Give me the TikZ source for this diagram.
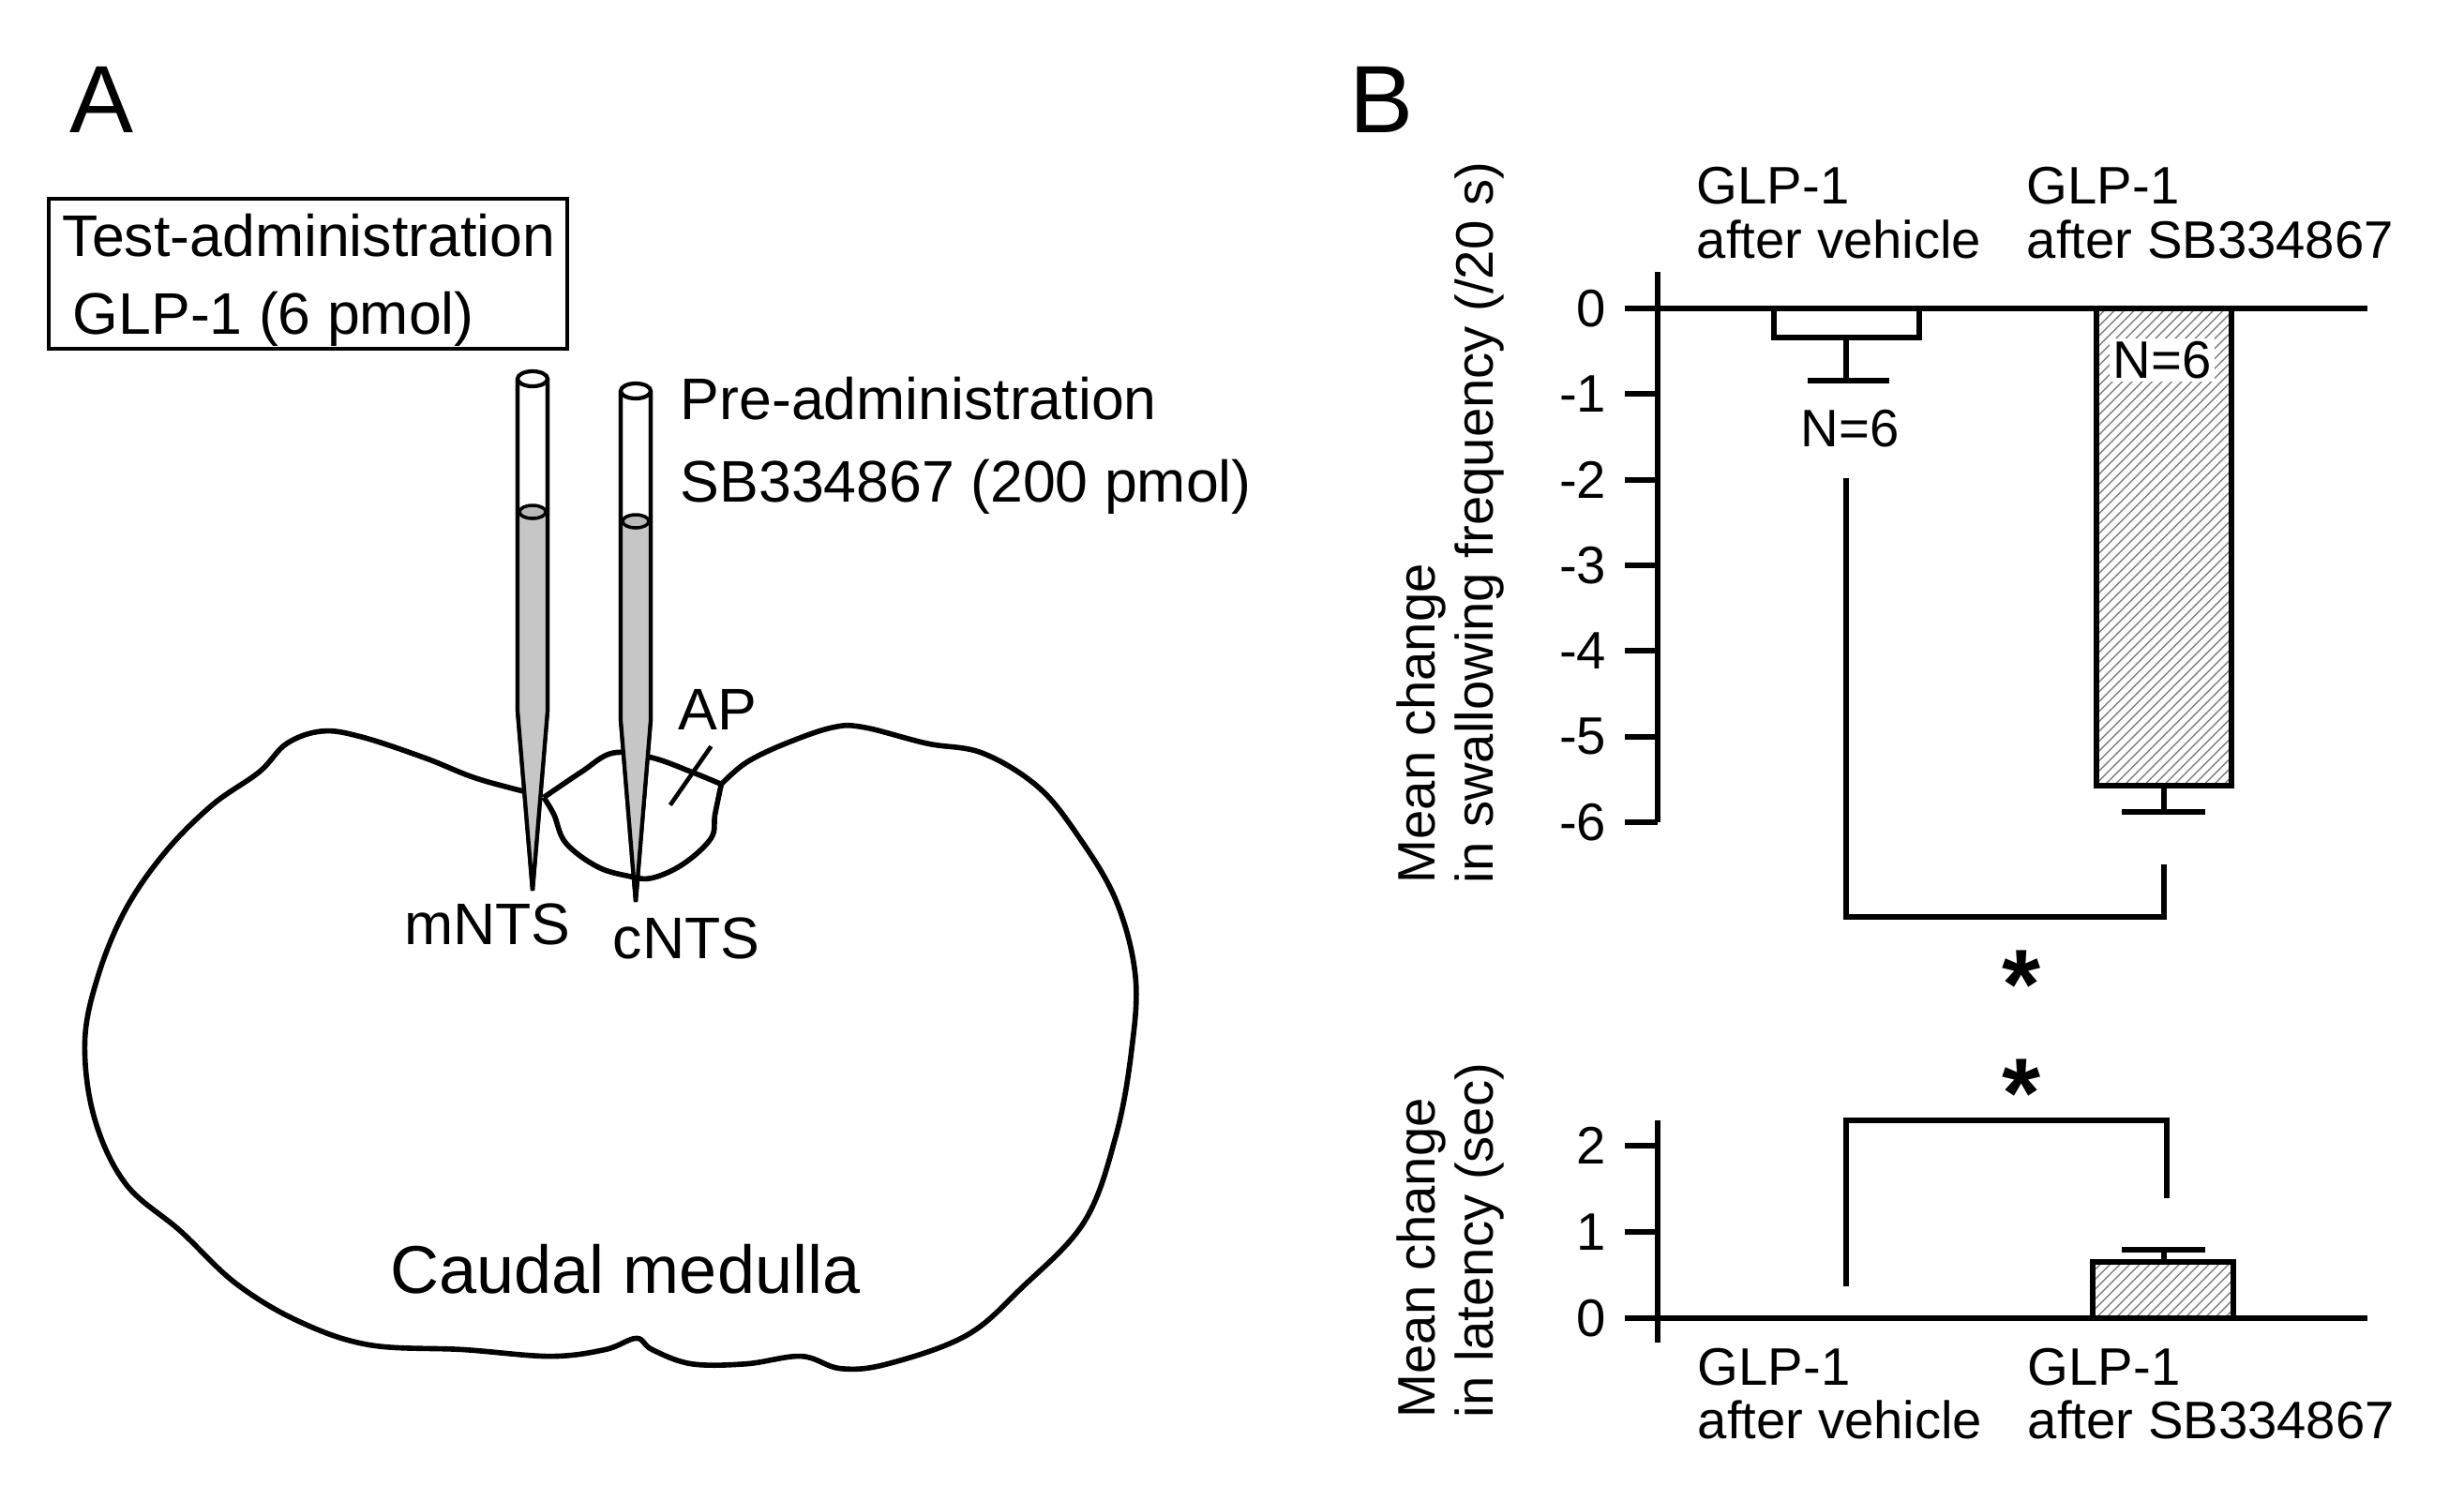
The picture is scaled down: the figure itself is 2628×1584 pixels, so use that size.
\documentclass[tikz,border=0pt]{standalone}
\usepackage{fontspec}
\setmainfont{Liberation Sans}
\usetikzlibrary{patterns}
\begin{document}
\begin{tikzpicture}[x=0.01cm,y=-0.01cm,line width=1.6pt,
  big/.style={font=\fontsize{29}{32}\selectfont,inner sep=0},
  lab/.style={font=\fontsize{17.8}{20}\selectfont,inner sep=0},
  sm/.style={font=\fontsize{16}{18}\selectfont,inner sep=0},
  hatch/.style={pattern=north east lines,pattern color=gray},
  axis/.style={line width=1.7pt}]
\useasboundingbox (0,0) rectangle (2628,1584);
% ---------- Panel A ----------
\node[big,anchor=base west] (A) at (72,141) {A};
\draw[line width=1pt] (52,212) rectangle (605,372);
\node[lab,anchor=base west] (t1) at (64,273) {Test-administration};
\node[lab,anchor=base west] (t2) at (75,356) {GLP-1 (6 pmol)};
\node[lab,anchor=base west] (p1) at (723,447) {Pre-administration};
\node[lab,anchor=base west] (p2) at (723,535) {SB334867 (200 pmol)};
% outline
\begin{scope}[xscale=0.838,yscale=1.0102]
\draw[line width=1.6pt,line join=round] plot[smooth,tension=0.6] coordinates {
(690,840)(650,832)(600,820)(540,800)(460,778)(410,772)(365,785)(330,815)(270,850)(210,900)(160,960)(125,1030)(108,1100)(120,1180)(160,1250)(230,1300)(300,1355)(380,1395)(470,1420)(590,1425)(700,1432)(770,1425)(810,1413)(830,1425)(880,1440)(950,1440)(1020,1432)(1070,1445)(1130,1440)(1230,1410)(1300,1360)(1380,1290)(1420,1200)(1440,1110)(1445,1030)(1420,950)(1370,880)(1320,830)(1250,795)(1180,785)(1100,768)(1060,768)(1000,785)(950,805)(918,828)};
\draw[line width=1.6pt] plot[smooth,tension=0.6] coordinates {
(918,828)(910,860)(905,885)(870,912)(830,927)(800,925)(760,915)(720,890)(705,860)(692,842)};
\draw[line width=1.6pt] plot[smooth,tension=0.6] coordinates {
(692,842)(740,815)(780,795)(830,800)(880,815)(918,828)};
\draw[line width=1.3pt] (905,788) -- (853,850);
\end{scope}
% pipettes
\foreach \c/\t/\g/\k/\e in {568/404/546/758/950, 678/417/556/768/962}{
  \draw[line width=1.2pt,fill=white] (\c-16,\t) -- (\c-16,\k) -- (\c,\e) -- (\c+16,\k) -- (\c+16,\t);
  \fill[gray!45] (\c-14,\g) -- (\c-14,\k) -- (\c-1,\e) -- (\c+1,\e) -- (\c+14,\k) -- (\c+14,\g) -- cycle;
  \draw[line width=1.2pt] (\c-16,\t) -- (\c-16,\k) -- (\c,\e) -- (\c+16,\k) -- (\c+16,\t);
  \draw[line width=1pt,fill=gray!55] (\c,\g) ellipse (14 and 7);
  \draw[line width=1.2pt,fill=white] (\c,\t) ellipse (16 and 8);
}
\node[lab,anchor=base] (ap) at (765,778) {AP};
\node[lab,anchor=base] (m) at (520,1007) {mNTS};
\node[lab,anchor=base] (cn) at (732,1022) {cNTS};
\node[font=\fontsize{20.5}{23}\selectfont,inner sep=0,anchor=base] (cm) at (667,1379) {Caudal medulla};
% ---------- Panel B ----------
\node[big,anchor=base west] (B) at (1437,141) {B};
% top axis
\draw[axis] (1768,290) -- (1768,877);
\draw[axis] (1733,329) -- (2525,329);
\foreach \k in {1,...,6}{ \draw[axis] (1733,329+91.3*\k) -- (1768,329+91.3*\k);
  \node[sm,anchor=east] at (1716,329+91.3*\k) {-\k}; }
\node[sm,anchor=east] (z0) at (1716,329) {0};
% bars top
\draw[line width=1.6pt] (1892,329) rectangle (2047,360);
\draw[line width=1.6pt] (1969,360) -- (1969,406) (1928,406) -- (2015,406);
\draw[line width=1.6pt,hatch] (2236,329) rectangle (2380,838);
\draw[line width=1.6pt] (2308,838) -- (2308,866) (2263,866) -- (2352,866);
\node[sm,anchor=center] (n1) at (1973,457) {N=6};
\node[sm,anchor=center,fill=white,inner sep=1pt] (n2) at (2306,384) {N=6};
\draw[line width=1.6pt] (1969,510) -- (1969,978) -- (2308,978) -- (2308,922);
\node[font=\fontsize{30}{30}\selectfont\bfseries,inner sep=0] (s1) at (2156,1050) {*};
\node[font=\fontsize{30}{30}\selectfont\bfseries,inner sep=0] (s2) at (2156,1166) {*};
% bottom axis
\draw[axis] (1768,1195) -- (1768,1432);
\draw[axis] (1733,1406) -- (2525,1406);
\foreach \k in {1,2}{ \draw[axis] (1733,1406-92*\k) -- (1768,1406-92*\k);
  \node[sm,anchor=east] at (1716,1406-92*\k) {\k}; }
\node[sm,anchor=east] (b0) at (1716,1406) {0};
\draw[line width=1pt] (1892,1405) -- (2047,1405);
\draw[line width=1.6pt,hatch] (2232,1406) rectangle (2382,1346);
\draw[line width=1.6pt] (2308,1346) -- (2308,1333) (2263,1333) -- (2352,1333);
\draw[line width=1.6pt] (1969,1372) -- (1969,1195) -- (2311,1195) -- (2311,1278);
% group labels
\node[sm,anchor=base west] (g1) at (1807,217) {GLP-1};
\node[sm,anchor=base west] (g1b) at (1807,275) {after vehicle};
\node[sm,anchor=base west] (g2) at (2159,217) {GLP-1};
\node[sm,anchor=base west] (g2b) at (2159,275) {after SB334867};
\node[sm,anchor=base west] (h1) at (1808,1477) {GLP-1};
\node[sm,anchor=base west] (h1b) at (1808,1534) {after vehicle};
\node[sm,anchor=base west] (h2) at (2160,1477) {GLP-1};
\node[sm,anchor=base west] (h2b) at (2160,1534) {after SB334867};
% y labels
\node[sm,rotate=90,anchor=base west] (y1) at (1530,945) {Mean change};
\node[sm,rotate=90,anchor=base west] (y2) at (1592,945) {in swallowing frequency (/20 s)};
\node[sm,rotate=90,anchor=base west] (y3) at (1530,1515) {Mean change};
\node[sm,rotate=90,anchor=base west] (y4) at (1592,1515) {in latency (sec)};
\end{tikzpicture}
\end{document}
